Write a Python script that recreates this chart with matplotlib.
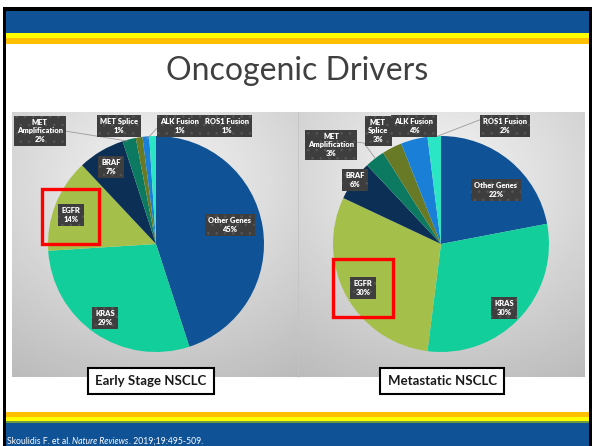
import numpy as np
import matplotlib.pyplot as plt
from matplotlib.patches import Rectangle

plt.rcParams["font.family"] = ["Lato", "DejaVu Sans"]

# data
genes = ['Other Genes', 'KRAS', 'EGFR', 'BRAF', 'MET Amplification',
         'MET Splice', 'ALK Fusion', 'ROS1 Fusion']
early = [45, 29, 14, 7, 2, 1, 1, 1]
metastatic = [22, 30, 30, 6, 3, 3, 4, 2]
colors = ['#0F5296', '#12CE9A', '#A5C04A', '#0B2F55', '#0C7A60',
          '#687A26', '#1A7FD6', '#2BE6C4']
panel_titles = ['Early Stage NSCLC', 'Metastatic NSCLC']

W, H = 592, 446
fig = plt.figure(figsize=(W / 100, H / 100), dpi=100)

# slide background in pixel coords
bg = fig.add_axes([0, 0, 1, 1], zorder=0)
bg.set_xlim(0, W)
bg.set_ylim(H, 0)
bg.axis('off')


def box(ax, x0, y0, x1, y1, **kw):
    ax.add_patch(Rectangle((x0, y0), x1 - x0, y1 - y0, **kw))


box(bg, 3, 7, 592, 11, fc='black', lw=0)
box(bg, 3, 7, 6, H, fc='black', lw=0)
box(bg, 589, 7, 592, H, fc='black', lw=0)
box(bg, 6, 11, 589, 32.5, fc='#0F5296', lw=0)
box(bg, 6, 32.5, 589, 37.5, fc='#FFFF00', lw=0)
box(bg, 6, 37.5, 589, 43.5, fc='#FFC000', lw=0)
box(bg, 6, 412, 589, 417, fc='#FFC000', lw=0)
box(bg, 6, 417, 589, 421, fc='#FFFF00', lw=0)
box(bg, 6, 421, 589, 423, fc='#6E9A3C', lw=0)
box(bg, 6, 423, 589, H, fc='#0F5296', lw=0)

# gradient panels behind the pies
yy, xx = np.mgrid[0:1:200j, 0:1:200j]
dist = np.sqrt(((xx - 0.5) * 1.0) ** 2 + ((yy - 0.25) * 1.1) ** 2)
grad = np.clip(0.96 - 0.2 * dist / 0.85, 0, 1)
for x0, x1 in [(12, 298), (298, 585)]:
    bg.imshow(grad, cmap='gray', vmin=0, vmax=1, extent=(x0, x1, 377, 112),
              aspect='auto', interpolation='bilinear', zorder=1)
bg.plot([298, 298], [112, 377], color='#c4c4c4', lw=0.6, zorder=2)
bg.set_xlim(0, W)
bg.set_ylim(H, 0)

bg.text(297, 71, 'Oncogenic Drivers', ha='center', va='center',
        fontsize=23, color='#404040')

# footer text
r = fig.canvas.get_renderer()
x = 7
for part, style in [('Skoulidis F. et al. ', 'normal'), ('Nature Reviews', 'italic'),
                    ('. 2019;19:495-509.', 'normal')]:
    t = bg.text(x, 444, part, ha='left', va='baseline', fontsize=6.2,
                color='white', style=style)
    x += t.get_window_extent(r).width

# pies
R = 108
centers = [(156, 244), (441, 244)]
for (cx, cy), vals in zip(centers, [early, metastatic]):
    ax = fig.add_axes([(cx - R) / W, (H - cy - R) / H, 2 * R / W, 2 * R / H],
                      zorder=2)
    ax.pie(vals, colors=colors, startangle=90, counterclock=False,
           wedgeprops=dict(linewidth=0))
    ax.set_xlim(-1, 1)
    ax.set_ylim(-1, 1)
    ax.axis('off')

# overlay for labels
ov = fig.add_axes([0, 0, 1, 1], zorder=3)
ov.set_xlim(0, W)
ov.set_ylim(H, 0)
ov.axis('off')
ov.patch.set_alpha(0)

names_left = ['Other Genes', 'KRAS', 'EGFR', 'BRAF', 'MET\nAmplification',
              'MET Splice', 'ALK Fusion', 'ROS1 Fusion']
names_right = ['Other Genes', 'KRAS', 'EGFR', 'BRAF', 'MET\nAmplification',
               'MET\nSplice', 'ALK Fusion', 'ROS1 Fusion']
pos_left = [(230, 225), (105, 318), (71, 215), (111, 167), (40, 131),
            (119, 126), (180, 126), (227, 126)]
pos_right = [(496, 190), (504, 308), (363, 288), (355, 180), (331, 145),
             (378, 131), (414, 126), (505, 126)]

# leader lines
for xs, ys in [([65, 127], [131, 141]), ([159, 147], [126, 139]),
               ([356, 364, 375], [142, 143, 158]), ([482, 438], [119, 136])]:
    ov.plot(xs, ys, color='#9a9a9a', lw=0.6)

plt.rcParams['hatch.linewidth'] = 0.6
for names, vals, pos in [(names_left, early, pos_left),
                         (names_right, metastatic, pos_right)]:
    for n, v, (px, py) in zip(names, vals, pos):
        ov.text(px, py, f'{n}\n{v}%', ha='center', va='center', fontsize=5.4,
                fontweight='heavy', color='white', linespacing=1.2,
                bbox=dict(boxstyle='square,pad=0.45', fc='#3E3E3E',
                          ec='#565656', lw=0, hatch='..'))

# red highlight boxes
for x0, y0, x1, y1 in [(42, 189, 99, 244), (333, 259, 393, 317)]:
    box(ov, x0, y0, x1, y1, fill=False, ec='#FF0000', lw=2.4)

# panel titles
for (cx, _), title in zip(centers, panel_titles):
    ov.text(cx - 5 if cx < 300 else cx + 1, 381, title, ha='center', va='center',
            fontsize=9.5, fontweight='bold', color='#1a1a1a',
            bbox=dict(boxstyle='square,pad=0.55', fc='white', ec='black', lw=1.5))

fig.savefig('out.png', dpi=100)
